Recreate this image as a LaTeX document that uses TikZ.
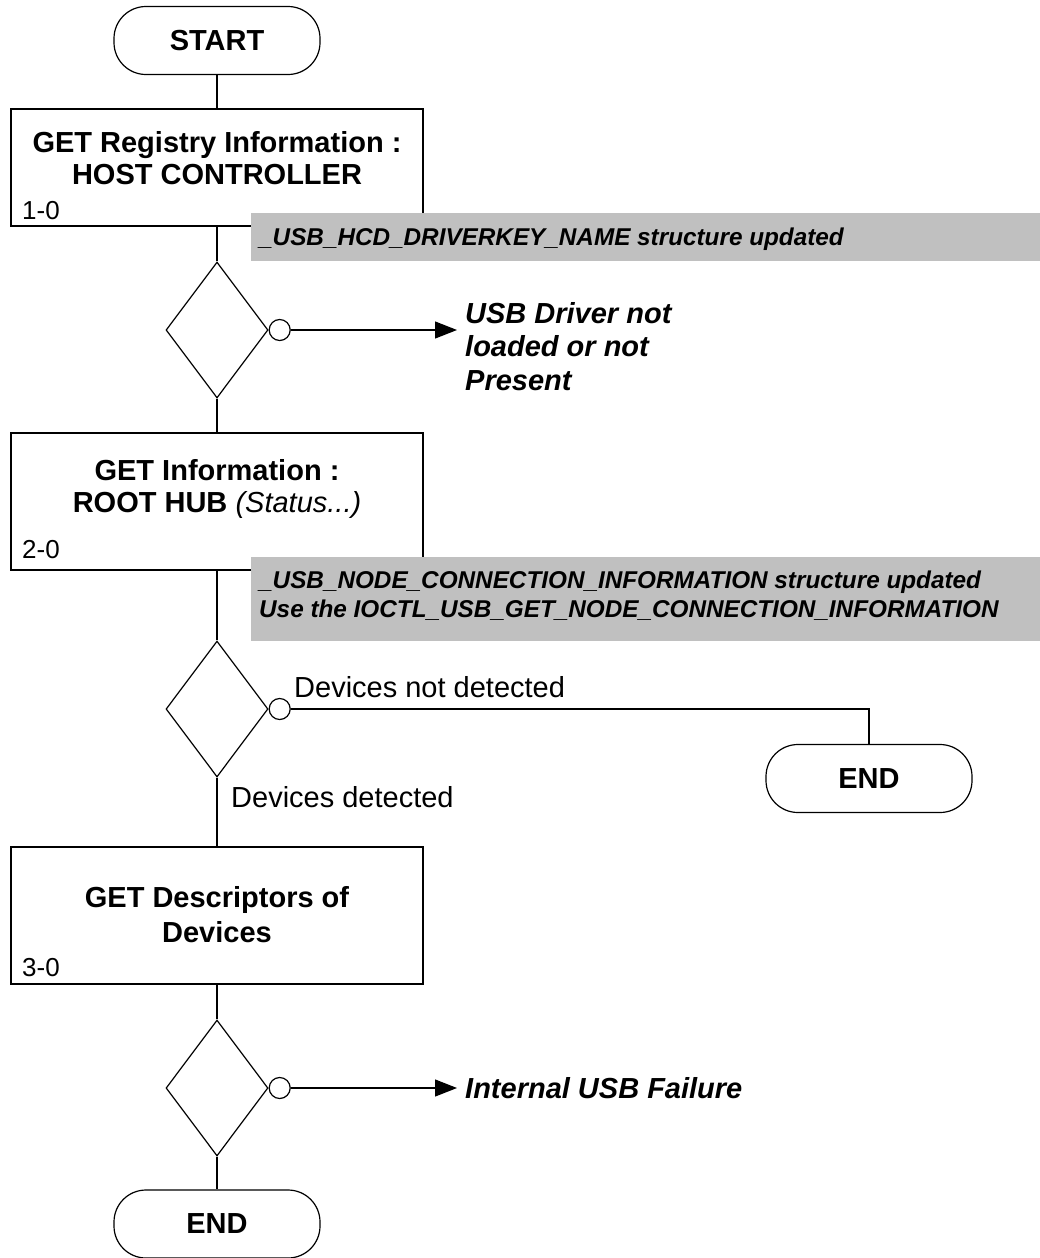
\documentclass[tikz,border=0pt]{standalone}
\usepackage{fontspec}
\setmainfont{Liberation Sans}
\usetikzlibrary{arrows.meta,shapes.geometric}

\definecolor{notegray}{RGB}{192,192,192}

\tikzset{
  flow/.style={line width=1.2pt, draw=black},
  terminal/.style={flow, rounded corners=32pt, minimum width=206pt, minimum height=68pt,
    inner sep=0pt, font=\fontsize{29}{32}\selectfont\bfseries},
  procbox/.style={flow, rectangle, minimum width=412pt, inner sep=0pt},
  decision/.style={flow, diamond, minimum width=102pt, minimum height=136pt, inner sep=0pt},
  exitring/.style={flow, circle, minimum size=21pt, inner sep=0pt, anchor=west},
  note/.style={fill=notegray, inner sep=0pt, anchor=north west},
  boxtext/.style={inner sep=0pt, anchor=north, align=center, font=\fontsize{29}{32}\selectfont\bfseries},
  steplabel/.style={inner sep=0pt, anchor=base west, font=\fontsize{26}{30}\selectfont},
  notetext/.style={inner sep=0pt, anchor=north west, align=left,
    font=\fontsize{24.3}{29}\selectfont\bfseries\itshape},
  outcome/.style={inner sep=0pt, anchor=north west, align=left,
    font=\fontsize{29}{33.5}\selectfont\bfseries\itshape},
  branch/.style={inner sep=0pt, anchor=base west, font=\fontsize{29}{32}\selectfont},
  exitarrow/.style={flow, -{Triangle[length=22pt,width=17pt]}}
}

\begin{document}
\begin{tikzpicture}[x=1pt,y=-1pt]
\useasboundingbox (0,0) rectangle (1040,1258);

% start
\node[terminal] (start) at (217,40.5) {START};

% step 1
\node[procbox, minimum height=117pt] (box1) at (217,167.5) {};
\node[boxtext] (box1t) at (217,131) {GET Registry Information :\\HOST CONTROLLER};
\node[steplabel] (box1n) at (22,219) {1-0};
\node[note, minimum width=789pt, minimum height=48pt] (note1) at (251,213) {};
\node[notetext] (note1t) at (259,228) {\_USB\_HCD\_DRIVERKEY\_NAME structure updated};

\node[decision] (dec1) at (217,330) {};
\node[exitring] (ring1) at (dec1.east) {};
\coordinate (tip1) at (457,330);
\node[outcome] (out1) at (465,302) {USB Driver not\\loaded or not\\Present};

% step 2
\node[procbox, minimum height=137pt] (box2) at (217,501.5) {};
\node[boxtext] (box2t) at (217,459) {GET Information :\\ROOT HUB \textit{\mdseries(Status...)}};
\node[steplabel] (box2n) at (22,558) {2-0};
\node[note, minimum width=789pt, minimum height=84pt] (note2) at (251,557) {};
\node[notetext] (note2t) at (259,571) {\_USB\_NODE\_CONNECTION\_INFORMATION structure updated\\
  Use the IOCTL\_USB\_GET\_NODE\_CONNECTION\_INFORMATION};

\node[decision] (dec2) at (217,709) {};
\node[exitring] (ring2) at (dec2.east) {};
\node[terminal] (end2) at (869,778.5) {END};
\node[branch] (nodev) at (294,697) {Devices not detected};
\node[branch] (dev) at (231,807) {Devices detected};

% step 3
\node[procbox, minimum height=137pt] (box3) at (217,915.5) {};
\node[boxtext, font=\fontsize{29}{35}\selectfont\bfseries] (box3t) at (217,886) {GET Descriptors of\\Devices};
\node[steplabel] (box3n) at (22,976) {3-0};

\node[decision] (dec3) at (217,1088) {};
\node[exitring] (ring3) at (dec3.east) {};
\coordinate (tip3) at (457,1088);
\node[outcome, anchor=base west] (out3) at (465,1098) {Internal USB Failure};

\node[terminal] (end3) at (217,1224) {END};

% connectors
\draw[flow] (start.south) -- (box1.north);
\draw[flow] (box1.south) -- (dec1.north);
\draw[flow] (dec1.south) -- (box2.north);
\draw[flow] (box2.south) -- (dec2.north);
\draw[flow] (dec2.south) -- (box3.north);
\draw[flow] (box3.south) -- (dec3.north);
\draw[flow] (dec3.south) -- (end3.north);
\draw[exitarrow] (ring1.east) -- (tip1);
\draw[exitarrow] (ring3.east) -- (tip3);
\draw[flow] (ring2.east) -| (end2.north);
\end{tikzpicture}
\end{document}
